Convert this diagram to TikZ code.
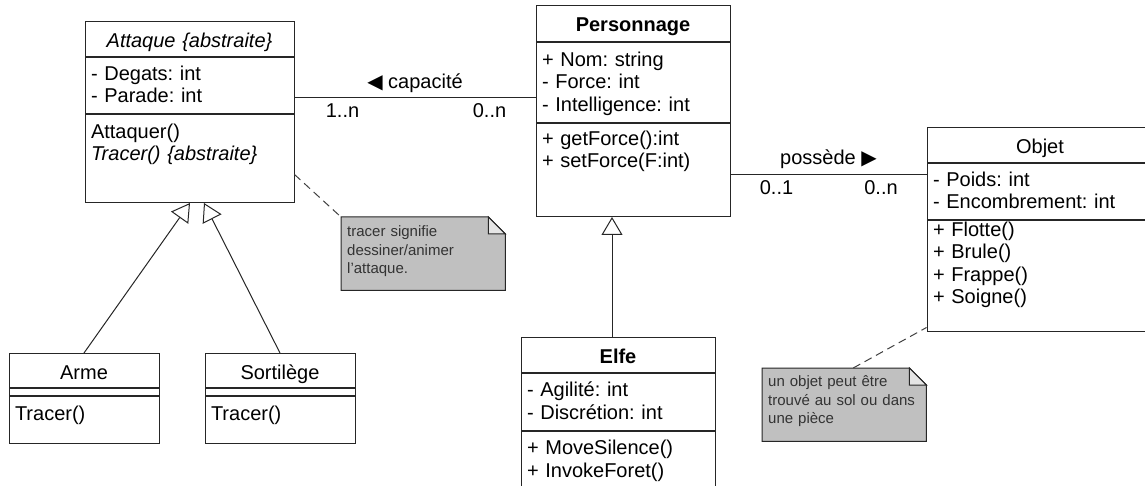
\documentclass[tikz,border=0pt]{standalone}
\usepackage{fontspec}
\setmainfont{Liberation Sans}
\newfontfamily\trifont{DejaVu Sans}
\usetikzlibrary{positioning, arrows.meta, backgrounds}
\frenchspacing
\definecolor{notegray}{RGB}{192,192,192}
\newcommand{\clsfont}{\fontsize{20}{22.5}\selectfont}
\newcommand{\notefont}{\fontsize{15}{18.5}\selectfont}
\tikzset{
cls/.style={draw=black!85, line width=1pt, fill=white, anchor=north, inner xsep=6pt, inner ysep=0pt, text width=#1pt, align=left, font=\clsfont}, % one compartment of a class
clstitle/.style={cls=#1, align=center}, % the name compartment
sec/.style 2 args={text height=#1pt, text depth=#2pt}, % first baseline, rest of the height
lbl/.style={font=\clsfont, inner sep=0pt}, % association labels
inherit/.style={draw=black!85, line width=1pt, -{Triangle[open, length=18pt, width=21pt]}},
assoc/.style={draw=black!85, line width=1pt},
notelink/.style={draw=black!75, line width=1pt, dash pattern=on 8pt off 5pt},
note/.style={anchor=north west, inner xsep=6pt, inner ysep=0pt, text width=152pt, align=left, font=\notefont, text=black!80},
notebox/.style={draw=black!85, line width=1pt, fill=notegray},
notefold/.style={draw=black!85, line width=1pt, fill=gray!20},
}
\begin{document}
\begin{tikzpicture}[x=1pt, y=-1pt]
\path[use as bounding box] (0,0) rectangle (1145,486);

% Attaque
\node[clstitle=197, sec={26}{9}] (atkT) at (189.5,21) {\textit{Attaque \{abstraite\}}};
\node[cls=197, sec={23}{33}, below=0pt of atkT] (atkA) {- Degats: int\\- Parade: int};
\node[cls=197, sec={24}{64}, below=0pt of atkA] (atkM) {Attaquer()\\\textit{Tracer() \{abstraite\}}};

% Personnage
\node[clstitle=182, sec={26}{10}] (persT) at (633,5) {\textbf{Personnage}};
\node[cls=182, sec={24}{56}, below=0pt of persT] (persA) {+ Nom: string\\- Force: int\\- Intelligence: int};
\node[cls=182, sec={22}{71}, below=0pt of persA] (persM) {+ getForce():int\\+ setForce(F:int)};

% Objet
\node[clstitle=214, sec={26}{9}] (objT) at (1040,127) {Objet};
\node[cls=214, sec={23}{33}, below=0pt of objT] (objA) {- Poids: int\\- Encombrement: int};
\node[cls=214, sec={16}{95}, below=0pt of objA] (objM) {+ Flotte()\\+ Brule()\\+ Frappe()\\+ Soigne()};

% Elfe
\node[clstitle=182, sec={26}{9}] (elfeT) at (618,337) {\textbf{Elfe}};
\node[cls=182, sec={23}{34}, below=0pt of elfeT] (elfeA) {- Agilité: int\\- Discrétion: int};
\node[cls=182, sec={23}{48}, below=0pt of elfeA] (elfeM) {+ MoveSilence()\\+ InvokeForet()};

% Arme et Sortilege
\node[clstitle=138, sec={26}{8}] (armeT) at (84,353) {Arme};
\node[cls=138, sec={0}{7}, below=0pt of armeT] (armeA) {};
\node[cls=138, sec={24}{23}, below=0pt of armeA] (armeM) {Tracer()};
\node[clstitle=138, sec={26}{8}] (sortT) at (280,353) {Sortilège};
\node[cls=138, sec={0}{7}, below=0pt of sortT] (sortA) {};
\node[cls=138, sec={24}{23}, below=0pt of sortA] (sortM) {Tracer()};

% notes
\node[note, sec={19.7}{53.3}] (noteA) at (341,217) {tracer signifie\\dessiner/animer\\l'attaque.};
\node[note, sec={18.7}{54.3}] (noteB) at (762,368) {un objet peut être\\trouvé au sol ou dans\\une pièce};
\begin{scope}[on background layer]
\foreach \n in {noteA, noteB} {
\filldraw[notebox] (\n.north west) -- ([xshift=-17pt]\n.north east) -- ([yshift=-17pt]\n.north east) -- (\n.south east) -- (\n.south west) -- cycle;
\filldraw[notefold] ([xshift=-17pt]\n.north east) -- ([xshift=-17pt,yshift=-17pt]\n.north east) -- ([yshift=-17pt]\n.north east) -- cycle;
}
\end{scope}

% associations
\draw[assoc] ([yshift=-12pt]atkA.east) -- node[lbl, above=4pt] {{\trifont ◀} capacité} ([yshift=-12pt]atkA.east -| persA.west)
node[lbl, pos=0, anchor=north, xshift=48pt, yshift=-6pt] {1..n}
node[lbl, pos=1, anchor=north, xshift=-46pt, yshift=-6pt] {0..n};
\draw[assoc] ([yshift=-4.5pt]persM.east) -- node[lbl, above=5pt] {possède {\trifont ▶}} ([yshift=-4.5pt]persM.east -| objA.west)
node[lbl, pos=0, anchor=north, xshift=46pt, yshift=-6pt] {0..1}
node[lbl, pos=1, anchor=north, xshift=-45.5pt, yshift=-6pt] {0..n};

% generalisations
\draw[inherit] (armeT.north) -- ([xshift=0.5pt]atkM.south);
\draw[inherit] (sortT.north) -- ([xshift=14.5pt]atkM.south);
\draw[inherit] ([xshift=-6pt]elfeT.north) -- ([xshift=-6pt]elfeT.north |- persM.south);

% liens des notes
\draw[notelink] ([yshift=-16pt]atkM.east) -- (noteA.north west);
\draw[notelink] ([xshift=9pt]noteB.north) -- ([yshift=-51.5pt]objM.west);
\end{tikzpicture}
\end{document}
